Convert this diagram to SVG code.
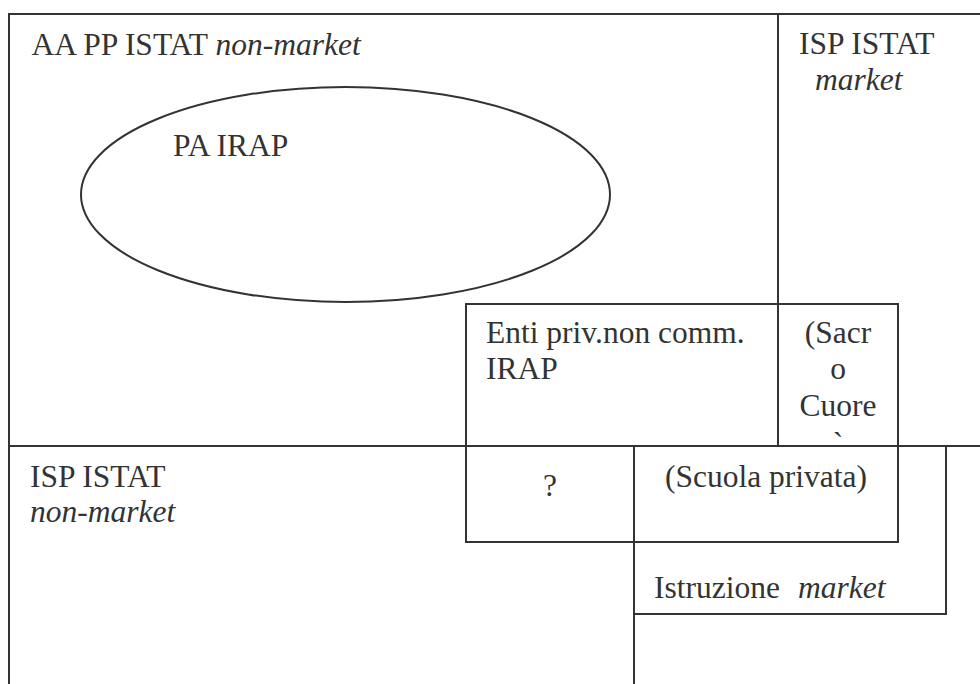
<svg xmlns="http://www.w3.org/2000/svg" width="980" height="684" viewBox="0 0 980 684">
  <style>
    .ln { stroke: #333333; stroke-width: 2; fill: none; }
    .t { font-family: "Liberation Serif", "Times New Roman", serif; font-size: 31.5px; fill: #333333; }
    .i { font-style: italic; }
    .m { text-anchor: middle; }
  </style>
  <rect x="0" y="0" width="980" height="684" fill="#ffffff"/>
  <g id="connectors">
    <line class="ln" x1="8" y1="14" x2="980" y2="14"/>
    <line class="ln" x1="9" y1="14" x2="9" y2="684"/>
    <line class="ln" x1="778" y1="14" x2="778" y2="446"/>
    <line class="ln" x1="9" y1="446" x2="980" y2="446"/>
    <line class="ln" x1="634" y1="446" x2="634" y2="684"/>
    <polyline class="ln" points="946,446 946,614 634,614"/>
  </g>
  <g id="aa-pp-istat">
    <text class="t" x="31.5" y="55">AA PP ISTAT <tspan class="i">non-market</tspan></text>
  </g>
  <g id="isp-istat-market">
    <text class="t" x="799" y="54">ISP ISTAT</text>
    <text class="t i" x="815" y="90">market</text>
  </g>
  <g id="pa-irap">
    <ellipse class="ln" cx="345.5" cy="194.5" rx="264.5" ry="107.5"/>
    <text class="t" x="173" y="156">PA IRAP</text>
  </g>
  <g id="enti-priv">
    <rect class="ln" x="466" y="304" width="432" height="238"/>
    <text class="t" x="486" y="343">Enti priv.non comm.</text>
    <text class="t" x="486" y="379">IRAP</text>
  </g>
  <g id="sacro-cuore">
    <text class="t m" x="838" y="343">(Sacr</text>
    <text class="t m" x="838" y="379">o</text>
    <text class="t m" x="838" y="416">Cuore</text>
    <text class="t m" x="838" y="454">`</text>
  </g>
  <g id="isp-istat-non-market">
    <text class="t" x="30" y="487">ISP ISTAT</text>
    <text class="t i" x="30" y="522">non-market</text>
  </g>
  <g id="question">
    <text class="t m" x="550" y="496">?</text>
  </g>
  <g id="scuola-privata">
    <text class="t m" x="766" y="487">(Scuola privata)</text>
  </g>
  <g id="istruzione-market">
    <text class="t" x="654" y="598">Istruzione</text>
    <text class="t i" x="798" y="598">market</text>
  </g>
</svg>
